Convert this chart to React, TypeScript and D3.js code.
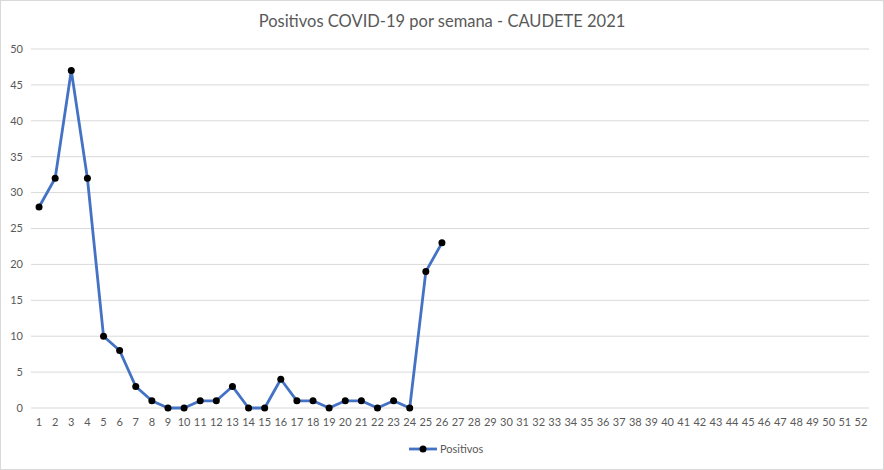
import { useMemo } from 'react';
import * as d3 from 'd3';

const WIDTH = 884;
const HEIGHT = 470;
const MARGIN = { top: 49, right: 15, bottom: 62, left: 31 };

const TITLE = 'Positivos COVID-19 por semana - CAUDETE 2021';
const SERIES_NAME = 'Positivos';

// semanas 1..52
const weeks = d3.range(1, 53).map(String);
// positivos por semana (solo hasta la 26)
const positivos = [28, 32, 47, 32, 10, 8, 3, 1, 0, 0, 1, 1, 3, 0, 0, 4, 1, 1, 0, 1, 1, 0, 1, 0, 19, 23];
const yTicks = [0, 5, 10, 15, 20, 25, 30, 35, 40, 45, 50];

const FONT = 'Lato, "Open Sans", sans-serif';
const TEXT = '#595959';

export default function App() {
  const boundsWidth = WIDTH - MARGIN.left - MARGIN.right;
  const boundsHeight = HEIGHT - MARGIN.top - MARGIN.bottom;

  const xScale = useMemo(
    () => d3.scaleBand<string>().domain(weeks).range([0, boundsWidth]),
    [boundsWidth]
  );
  const yScale = useMemo(
    () => d3.scaleLinear().domain([0, 50]).range([boundsHeight, 0]),
    [boundsHeight]
  );

  const pts = positivos.map((v, i) => ({ x: weeks[i], y: v }));
  const xPos = (w: string) => (xScale(w) ?? 0) + xScale.bandwidth() / 2;

  const line = d3
    .line<{ x: string; y: number }>()
    .x((d) => xPos(d.x))
    .y((d) => yScale(d.y));

  return (
    <svg width={WIDTH} height={HEIGHT} style={{ display: 'block', position: 'absolute', left: 0, top: 0 }}>
      <rect x={0.5} y={0.5} width={WIDTH - 1} height={HEIGHT - 1} fill="#fff" stroke="#d9d9d9" />
      <text x={WIDTH / 2} y={27} textAnchor="middle" fontFamily={FONT} fontSize={16.5} fill={TEXT}>
        {TITLE}
      </text>
      <g transform={`translate(${MARGIN.left},${MARGIN.top})`}>
        {yTicks.map((t) => (
          <g key={t}>
            <line x1={0} x2={boundsWidth} y1={yScale(t)} y2={yScale(t)} stroke="#d9d9d9" strokeWidth={1} />
            <text x={-8} y={yScale(t)} dy="0.35em" textAnchor="end" fontFamily={FONT} fontSize={11} fill={TEXT}>
              {t}
            </text>
          </g>
        ))}
        {weeks.map((w) => (
          <text key={w} x={xPos(w)} y={boundsHeight + 18} textAnchor="middle" fontFamily={FONT} fontSize={11} fill={TEXT}>
            {w}
          </text>
        ))}
        <path d={line(pts) ?? ''} fill="none" stroke="#4472C4" strokeWidth={2.8} strokeLinejoin="round" />
        {pts.map((p, i) => (
          <circle key={i} cx={xPos(p.x)} cy={yScale(p.y)} r={3.5} fill="#000" />
        ))}
      </g>
      <g transform={`translate(${WIDTH / 2 - 33},449)`}>
        <line x1={0} x2={28} y1={0} y2={0} stroke="#4472C4" strokeWidth={2.8} />
        <circle cx={14} cy={0} r={3.5} fill="#000" />
        <text x={31} y={0} dy="0.35em" fontFamily={FONT} fontSize={11} fill={TEXT}>
          {SERIES_NAME}
        </text>
      </g>
    </svg>
  );
}
